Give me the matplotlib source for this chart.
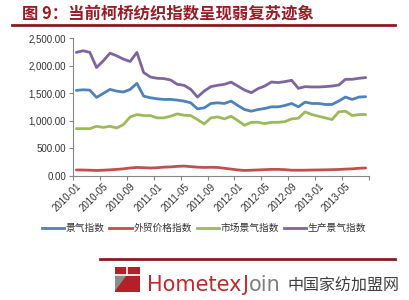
import numpy as np
import matplotlib
matplotlib.use("Agg")
import matplotlib.pyplot as plt
from matplotlib.lines import Line2D
from matplotlib.patches import Rectangle, Polygon

plt.rcParams['font.family'] = ['Liberation Sans', 'Noto Sans CJK SC', 'DejaVu Sans']

# monthly series, 2010-01 .. 2013-08
months = ["%d-%02d" % (y, m) for y in range(2010, 2014) for m in range(1, 13)][:44]

boom = [1551, 1562, 1556, 1423, 1496, 1569, 1538, 1521, 1569, 1679, 1447, 1417,
        1399, 1387, 1387, 1375, 1357, 1326, 1217, 1235, 1314, 1326, 1314, 1357,
        1277, 1204, 1174, 1204, 1223, 1253, 1253, 1277, 1314, 1253, 1338, 1314,
        1314, 1296, 1296, 1357, 1430, 1387, 1430, 1436]
trade_price = [110, 108, 105, 100, 105, 112, 120, 130, 145, 155, 150, 145,
               150, 160, 165, 175, 180, 170, 160, 155, 158, 155, 140, 125,
               110, 100, 105, 110, 115, 120, 120, 115, 105, 105, 105, 108,
               110, 112, 115, 118, 125, 130, 140, 145]
market = [858, 858, 858, 900, 881, 900, 870, 931, 1071, 1113, 1095, 1095,
          1053, 1053, 1083, 1126, 1101, 1095, 1022, 943, 1053, 1071, 1034, 1083,
          1004, 918, 973, 973, 949, 973, 973, 985, 1034, 1047, 1162, 1113,
          1083, 1053, 1022, 1162, 1174, 1095, 1113, 1113]
production = [2239, 2269, 2240, 1965, 2086, 2226, 2177, 2117, 2075, 2239, 1874, 1794,
              1770, 1765, 1740, 1661, 1643, 1570, 1430, 1539, 1619, 1643, 1661, 1700,
              1630, 1557, 1509, 1582, 1630, 1703, 1692, 1710, 1734, 1588, 1619, 1613,
              1613, 1619, 1630, 1648, 1752, 1752, 1770, 1783]

names = ["景气指数", "外贸价格指数", "市场景气指数", "生产景气指数"]
colors = ["#4f81bd", "#c0504d", "#9bbb59", "#8064a2"]

W, H = 409, 300
fig = plt.figure(figsize=(W / 100, H / 100), dpi=100)

def fx(x):
    return x / W

def fy(y):
    return 1 - y / H

ax = fig.add_axes([fx(73), fy(176), fx(369) - fx(73), fy(38) - fy(176)])
x = np.arange(len(months))
for vals, c in zip([boom, trade_price, market, production], colors):
    ax.plot(x, vals, color=c, lw=2, solid_capstyle='round', solid_joinstyle='round')

ax.set_xlim(-0.5, len(months) - 0.5)
ax.set_ylim(0, 2500)
ax.set_yticks(np.arange(0, 2501, 500))
ax.set_yticklabels(["{:,.2f}".format(v) for v in np.arange(0, 2501, 500)])
ax.set_xticks(np.arange(-0.5, len(months), 4))
ax.set_xticklabels([])
ax.set_xticks(x[::4], minor=True)
ax.set_xticklabels(months[::4], minor=True, rotation=45, ha='right',
                   rotation_mode='anchor')
ax.tick_params(axis='x', which='minor', length=0, pad=4, labelsize=7, colors='#333333')
ax.tick_params(axis='x', which='major', length=3, color='#868686')
ax.tick_params(axis='y', length=3, color='#868686', labelsize=7, labelcolor='#333333', pad=2)
for s in ['top', 'right']:
    ax.spines[s].set_visible(False)
for s in ['left', 'bottom']:
    ax.spines[s].set_color('#868686')
    ax.spines[s].set_linewidth(0.8)

handles = [Line2D([], [], color=c, lw=2) for c in colors]
fig.legend(handles, names, loc='center', bbox_to_anchor=(fx(204), fy(228)), ncol=4,
           frameon=False, fontsize=7, handlelength=2.3, handletextpad=0.15,
           columnspacing=0.5, labelcolor='#333333')

# header
fig.text(fx(22), fy(13), "图 9：当前柯桥纺织指数呈现弱复苏迹象", color='#9b1c24',
         fontsize=11.8, fontweight='bold', family=['Noto Sans CJK SC'], va='center')
fig.add_artist(Line2D([fx(12), fx(395)], [fy(25), fy(25)], color='#8b1a1f', lw=2))

# footer with logo
fig.add_artist(Line2D([fx(100), fx(395)], [fy(259), fy(259)], color='#8b1a1f', lw=2))
fig.add_artist(Rectangle((fx(115), fy(292)), fx(25), 25 / H, color='#b3202a', lw=0))
fig.add_artist(Line2D([fx(127), fx(127)], [fy(267), fy(275)], color='white', lw=1.2))
fig.add_artist(Line2D([fx(115), fx(140)], [fy(275), fy(275)], color='white', lw=1.2))
fig.add_artist(Polygon([(fx(115), fy(276)), (fx(126), fy(276)), (fx(115), fy(291))],
                       color='#8c8c8c', lw=0))

t1 = fig.text(fx(147), fy(291), "Hometex", color='#c0282d', fontsize=15,
              family=['DejaVu Sans'], va='baseline')
fig.canvas.draw()
r = fig.canvas.get_renderer()
bb = t1.get_window_extent(r)
t2 = fig.text(bb.x1 / W + fx(1), fy(291), "J", color='#d42a2a', fontsize=15,
              family=['DejaVu Sans'], va='baseline')
bb = t2.get_window_extent(r)
fig.text(bb.x1 / W, fy(291), "oin", color='#7f7f7f', fontsize=15,
         family=['DejaVu Sans'], va='baseline')
fig.text(fx(287), fy(291), "中国家纺加盟网", color='#3f3f3f', fontsize=11.5,
         family=['Noto Sans CJK SC'], va='baseline')

fig.savefig("out.png", dpi=100)
